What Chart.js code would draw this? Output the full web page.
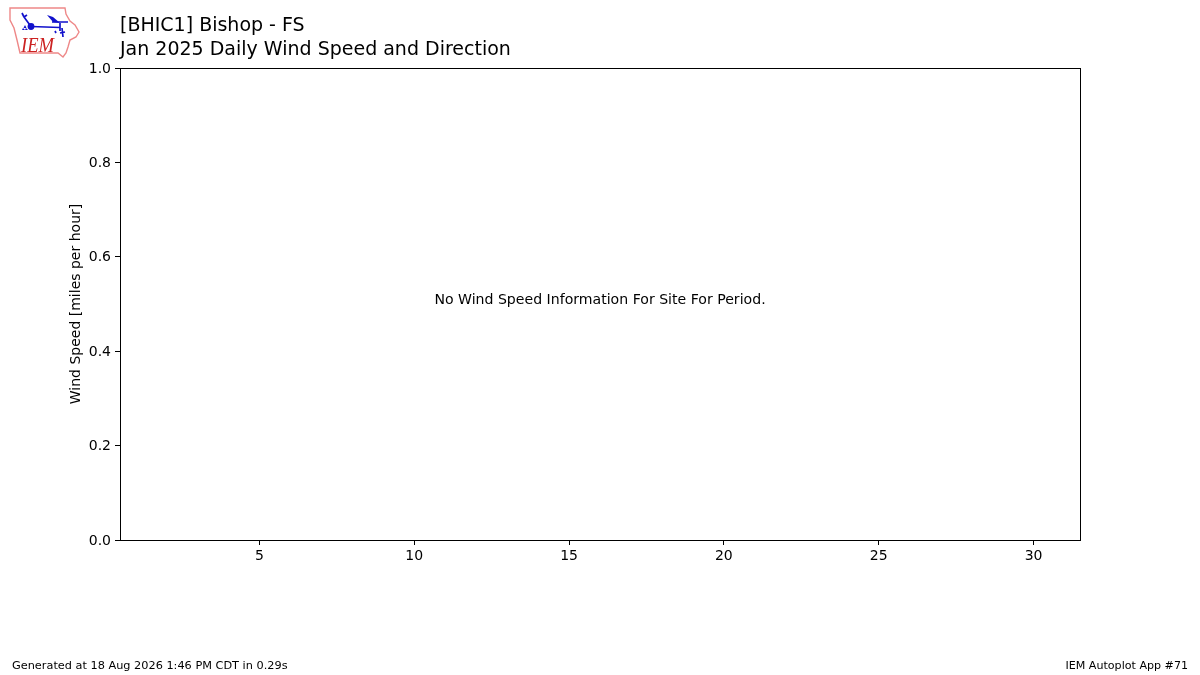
<!DOCTYPE html>
<html>
<head>
<meta charset="utf-8">
<title>Daily Wind Speed and Direction</title>
<script src="https://cdn.jsdelivr.net/npm/chart.js@4"></script>
<style>
 html,body{margin:0;padding:0;background:#fff}
 #wrap{position:relative;width:1200px;height:675px}
 canvas{position:absolute;left:0;top:0}
 #logo{position:absolute;left:0;top:0}
</style>
</head>
<body>
<div id="wrap">
<canvas id="chart" width="1200" height="675"></canvas>
<svg id="logo" width="90" height="65" viewBox="0 0 90 65">
 <path d="M10 8 L65 8 L66 14 L70 21 L75 25 L79 32 L76 37 L70 40 L68 47 L66 53 L63 57 L58 53 L20 53 L17 40 L14 28 L10 20 Z" fill="#fff" stroke="#e88" stroke-width="1.4"/>
 <g stroke="#11c" fill="none" stroke-width="1.7">
  <path d="M31 26.5 L60 27.5 M60 23 L60 31 M52 22 L68 22"/>
  <path d="M31 26.5 L24 17 M24 17 L22 13 M24 17 L27 15"/>
  <path d="M62 28 L63 37 M55 31 L56 33 M60 33 L65 32"/>
 </g>
 <circle cx="31" cy="26.5" r="3.4" fill="#11c"/>
 <path d="M47 15 L53 17 L60 23 L53 22 Z" fill="#11c"/>
 <path d="M25 25 L26.5 28 L23.5 28 Z M23 28 L25 30 L22 30 Z M26 28 L28 30 L25 30 Z" fill="#11c"/>
 <text x="21" y="52" font-family="Liberation Serif" font-style="italic" font-size="20" textLength="33" lengthAdjust="spacingAndGlyphs" fill="#c22">IEM</text>
</svg>
</div>
<script>
const days = []
const windSpeed = []
const xTicks = [5,10,15,20,25,30]
const yTicks = [0,0.2,0.4,0.6,0.8,1]
const xRange = [0.5,31.5]
const yRange = [0,1]

const titleLines = ["[BHIC1] Bishop - FS","Jan 2025 Daily Wind Speed and Direction"]
const yLabel = "Wind Speed [miles per hour]"
const noDataText = "No Wind Speed Information For Site For Period."
const footerLeft = "Generated at 18 Aug 2026 1:46 PM CDT in 0.29s"
const footerRight = "IEM Autoplot App #71"

const font = "'DejaVu Sans'"

const textPlugin = {
 id:"texts",
 afterDraw(c){
  const g = c.ctx, a = c.chartArea
  g.save()
  g.strokeStyle = "#000"
  g.lineWidth = 1
  g.strokeRect(a.left+0.5,a.top+0.5,a.right-a.left,a.bottom-a.top)
  g.fillStyle = "#000"
  g.textBaseline = "alphabetic"
  g.textAlign = "left"
  g.font = "19px "+font
  g.fillText(titleLines[0],120,31)
  g.fillText(titleLines[1],120,55)
  g.font = "11.3px "+font
  g.fillText(footerLeft,12,669)
  g.textAlign = "right"
  g.font = "11.1px "+font
  g.fillText(footerRight,1188,669)
  g.textAlign = "center"
  g.textBaseline = "middle"
  g.font = "14.1px "+font
  g.fillText(noDataText,(a.left+a.right)/2,300)
  g.restore()
 }
}

new Chart(document.getElementById("chart"),{
 type:"bar",
 data:{
  labels:days,
  datasets:[{label:"Wind Speed",data:windSpeed,backgroundColor:"#000"}]
 },
 options:{
  responsive:false,
  animation:false,
  layout:{padding:{top:68,right:120,left:0,bottom:0}},
  plugins:{legend:{display:false},tooltip:{enabled:false}},
  scales:{
   x:{
    type:"linear",
    offset:false,
    min:xRange[0],
    max:xRange[1],
    afterBuildTicks:s=>{s.ticks = xTicks.map(v=>({value:v}))},
    afterFit:s=>{s.height = 135},
    grid:{display:true,offset:false,drawOnChartArea:false,tickLength:5,tickColor:"#000",tickWidth:1},
    border:{display:true,color:"#000",width:1},
    ticks:{color:"#000",font:{family:font,size:14},maxRotation:0,padding:3,callback:v=>String(v)}
   },
   y:{
    type:"linear",
    min:yRange[0],
    max:yRange[1],
    afterBuildTicks:s=>{s.ticks = yTicks.map(v=>({value:v}))},
    afterFit:s=>{s.width = 120},
    grid:{display:true,drawOnChartArea:false,tickLength:5,tickColor:"#000",tickWidth:1},
    border:{display:true,color:"#000",width:1},
    ticks:{color:"#000",font:{family:font,size:14},padding:4,labelOffset:1,callback:v=>v.toFixed(1)},
    title:{display:true,text:yLabel,color:"#000",font:{family:font,size:14},padding:{top:68,bottom:0}}
   }
  }
 },
 plugins:[textPlugin]
})
</script>
</body>
</html>
